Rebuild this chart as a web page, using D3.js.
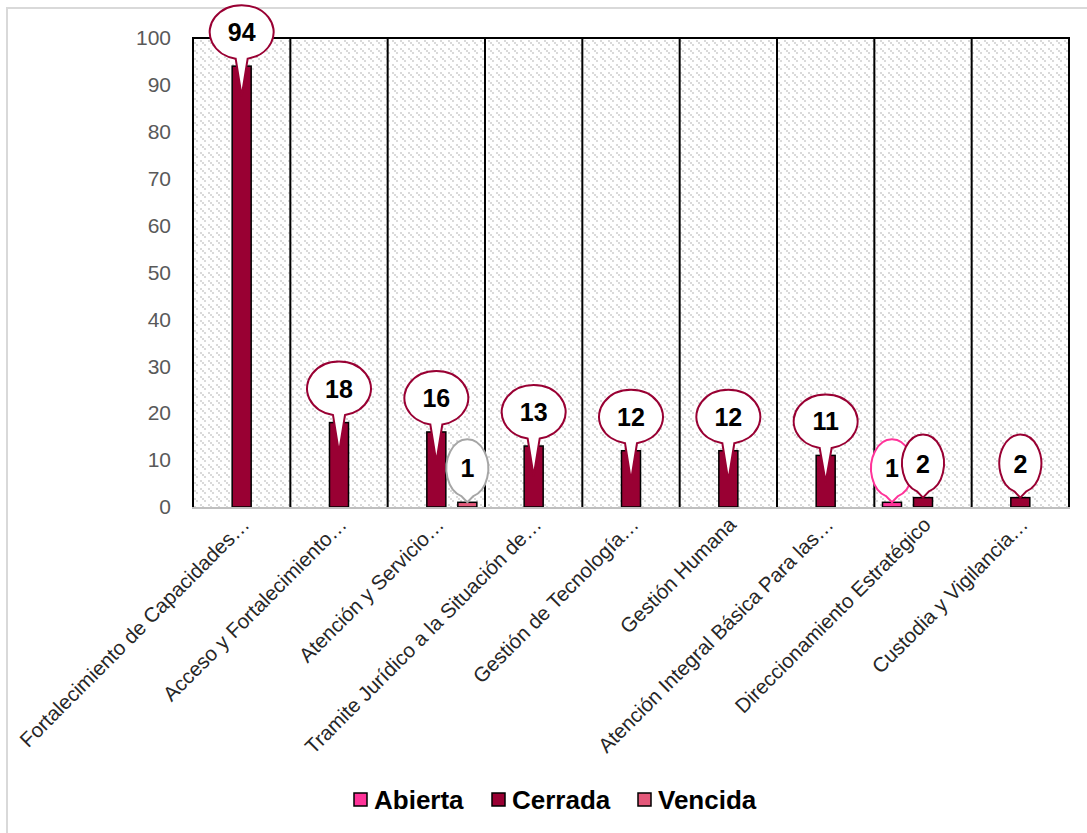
<!DOCTYPE html>
<html>
<head>
<meta charset="utf-8">
<script src="https://cdn.jsdelivr.net/npm/d3@7"></script>
<style>
  body { margin: 0; background: #fff; }
  svg text { font-family: "Liberation Sans", Arial, sans-serif; }
</style>
</head>
<body>
<div id="chart"></div>
<script>
// categories and series
var categories = [
    "Fortalecimiento de Capacidades…",
    "Acceso y Fortalecimiento…",
    "Atención y Servicio…",
    "Tramite Jurídico a la Situación de…",
    "Gestión de Tecnología…",
    "Gestión Humana",
    "Atención Integral Básica Para las…",
    "Direccionamiento Estratégico",
    "Custodia y Vigilancia…"
];
var seriesNames = ["Abierta", "Cerrada", "Vencida"];
var abierta = [0, 0, 0, 0, 0, 0, 0, 1, 0];
var cerrada = [94, 18, 16, 13, 12, 12, 11, 2, 2];
var vencida = [0, 0, 1, 0, 0, 0, 0, 0, 0];
var yTicks = [0, 10, 20, 30, 40, 50, 60, 70, 80, 90, 100];

var fills = { Abierta: "#FF3399", Cerrada: "#990033", Vencida: "#E4587A" };
var balloonStroke = { Abierta: "#FF3399", Cerrada: "#990033", Vencida: "#A6A6A6" };

var w = 1087, h = 833;
var plotLeft = 193, plotRight = 1069, plotTop = 38, plotBottom = 507;

var svg = d3.select("#chart").append("svg")
    .attr("width", w)
    .attr("height", h);

// background pattern for plot area
var defs = svg.append("defs");
var pat = defs.append("pattern")
    .attr("id", "dots")
    .attr("patternUnits", "userSpaceOnUse")
    .attr("width", 8).attr("height", 8);
pat.append("rect").attr("width", 8).attr("height", 8).attr("fill", "#fff");
[[0, 0], [2, 2], [4, 4]].forEach(function(p) {
    pat.append("rect").attr("x", p[0]).attr("y", p[1]).attr("width", 2).attr("height", 2)
        .attr("fill", "#dadada");
});

// outer chart border
svg.append("rect")
    .attr("x", 7).attr("y", 8)
    .attr("width", w).attr("height", h)
    .attr("fill", "none")
    .attr("stroke", "#d9d9d9")
    .attr("stroke-width", 2);

var xScale = d3.scaleBand().domain(categories).range([plotLeft, plotRight]);
var xInner = d3.scaleBand().domain(seriesNames)
    .range([xScale.bandwidth() / 2 - 46.5, xScale.bandwidth() / 2 + 46.5])
    .paddingInner(12 / 31).paddingOuter(6 / 31);
var yScale = d3.scaleLinear().domain([0, 100]).range([plotBottom, plotTop]);

svg.append("rect")
    .attr("x", plotLeft).attr("y", plotTop)
    .attr("width", plotRight - plotLeft).attr("height", plotBottom - plotTop)
    .attr("fill", "url(#dots)");

// category separators
svg.append("g").selectAll("line")
    .data(categories)
    .enter()
    .append("line")
    .attr("x1", function(d) { return xScale(d); })
    .attr("x2", function(d) { return xScale(d); })
    .attr("y1", plotTop).attr("y2", plotBottom)
    .attr("stroke", "#000").attr("stroke-width", 2);
svg.append("line")
    .attr("x1", plotRight).attr("x2", plotRight).attr("y1", plotTop).attr("y2", plotBottom)
    .attr("stroke", "#000").attr("stroke-width", 2);
svg.append("line")
    .attr("x1", plotLeft - 1).attr("x2", plotRight + 1).attr("y1", plotTop).attr("y2", plotTop)
    .attr("stroke", "#000").attr("stroke-width", 2);

// Y axis
var yAxis = d3.axisLeft(yScale).tickValues(yTicks).tickSize(0).tickPadding(22);
var gy = svg.append("g")
    .attr("transform", "translate(" + plotLeft + ",0)")
    .call(yAxis);
gy.select(".domain").remove();
gy.selectAll("text")
    .attr("fill", "#595959")
    .style("font-size", "21px");

// data rows
var rows = [];
var values = { Abierta: abierta, Cerrada: cerrada, Vencida: vencida };
seriesNames.forEach(function(s) {
    categories.forEach(function(c, i) {
        if (values[s][i] > 0) rows.push({ series: s, cat: c, value: values[s][i] });
    });
});

// bars
svg.append("g").selectAll("rect")
    .data(rows)
    .enter()
    .append("rect")
    .attr("x", function(d) { return xScale(d.cat) + xInner(d.series); })
    .attr("y", function(d) { return yScale(d.value); })
    .attr("width", xInner.bandwidth())
    .attr("height", function(d) { return plotBottom - yScale(d.value); })
    .attr("fill", function(d) { return fills[d.series]; })
    .attr("stroke", "#000")
    .attr("stroke-width", 1.5);

// baseline
svg.append("line")
    .attr("x1", plotLeft - 1).attr("x2", plotRight + 1).attr("y1", plotBottom + 1).attr("y2", plotBottom + 1)
    .attr("stroke", "#bfbfbf").attr("stroke-width", 2);

// callout labels
var balloons = svg.append("g").selectAll("g")
    .data(rows)
    .enter()
    .append("g");

balloons.append("path")
    .attr("d", function(d) {
        var cx = xScale(d.cat) + xInner(d.series) + xInner.bandwidth() / 2;
        var barTop = yScale(d.value);
        var cy = barTop - 34;
        var big = String(d.value).length > 1;
        var rx = big ? 32 : 21, ry = big ? 27 : 29;
        var tip = barTop + Math.min(30, Math.max(0, (plotBottom - barTop) - 25));
        var ang = Math.asin(6 / rx);
        var x1 = cx - rx * Math.sin(ang), y1 = cy + ry * Math.cos(ang);
        var x2 = cx + rx * Math.sin(ang);
        return "M" + x1 + "," + y1 +
            " A" + rx + "," + ry + " 0 1 1 " + x2 + "," + y1 +
            " L" + cx + "," + tip + " Z";
    })
    .attr("fill", "#fff")
    .attr("stroke", function(d) { return balloonStroke[d.series]; })
    .attr("stroke-width", 2);

balloons.append("text")
    .attr("x", function(d) { return xScale(d.cat) + xInner(d.series) + xInner.bandwidth() / 2; })
    .attr("y", function(d) { return yScale(d.value) - 34; })
    .attr("dy", "0.36em")
    .attr("text-anchor", "middle")
    .style("font-size", "25px")
    .style("font-weight", "bold")
    .text(function(d) { return d.value; });

// X labels
svg.append("g").selectAll("text")
    .data(categories)
    .enter()
    .append("text")
    .attr("transform", function(d) {
        return "translate(" + (xScale(d) + xScale.bandwidth() / 2 + 9) + ",526) rotate(-45)";
    })
    .attr("text-anchor", "end")
    .attr("fill", "#262626")
    .style("font-size", "20.5px")
    .text(function(d) { return d; });

// legend
var legendX = [354, 492, 638];
var legend = svg.append("g").selectAll("g")
    .data(seriesNames)
    .enter()
    .append("g")
    .attr("transform", function(d, i) { return "translate(" + legendX[i] + ",793)"; });
legend.append("rect")
    .attr("width", 13).attr("height", 13)
    .attr("fill", function(d) { return fills[d]; })
    .attr("stroke", "#000").attr("stroke-width", 1.5);
legend.append("text")
    .attr("x", 20).attr("y", 16)
    .style("font-size", "26px")
    .style("font-weight", "bold")
    .text(function(d) { return d; });
</script>
</body>
</html>
